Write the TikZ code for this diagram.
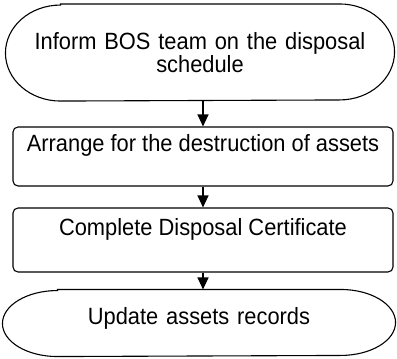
\documentclass[tikz,border=0pt]{standalone}
\usepackage{fontspec}
\setmainfont{Liberation Sans}[FakeStretch=0.93]
\usetikzlibrary{arrows.meta,positioning}

\begin{document}
\begin{tikzpicture}[>={Triangle[length=12pt,width=11pt]},line width=1.1pt,
    every node/.style={font=\fontsize{23.5pt}{23pt}\selectfont,inner sep=0pt},
    term/.style={minimum width=388pt,minimum height=96pt,text width=370pt,align=center},
    step box/.style={draw,rounded corners=5pt,minimum width=380pt,text height=17pt,text depth=27pt}]
    \useasboundingbox (0,0) rectangle (397pt,-359pt);

    \node[term]                              (I) at (200pt,-52.5pt) {Inform BOS team on the disposal\\schedule};
    \node[step box,minimum height=59pt]      (A) at (203pt,-156.5pt) {Arrange for the destruction of assets};
    \node[step box,minimum height=64pt]      (C) [below=83.5pt of A.center,anchor=center] {Complete Disposal Certificate};
    \node[term,minimum width=392pt,minimum height=66pt,text height=17pt,text depth=15pt] (U) at (199pt,-323pt) {Update assets records};

    % terminal outlines
    \tikzset{termline/.style={line width=1.1pt}}
    \draw[termline] ([xshift=55pt]I.north west) -- ([xshift=-55pt]I.north east)
        arc[start angle=90,end angle=-90,x radius=55pt,y radius=48pt]
        -- ([xshift=55pt]I.south west)
        arc[start angle=270,end angle=90,x radius=55pt,y radius=48pt] -- cycle;
    \draw[termline] ([xshift=55pt]U.north west) -- ([xshift=-55pt]U.north east)
        arc[start angle=90,end angle=-90,x radius=55pt,y radius=33pt]
        -- ([xshift=55pt]U.south west)
        arc[start angle=270,end angle=90,x radius=55pt,y radius=33pt] -- cycle;

    \tikzset{mystyle/.style={->,line width=1.1pt}}
    \draw[mystyle] (I.south -| A.north) -- (A.north);
    \draw[mystyle] (A.south) -- (C.north);
    \draw[mystyle] (C.south) -- (C.south |- U.north);
\end{tikzpicture}
\end{document}
